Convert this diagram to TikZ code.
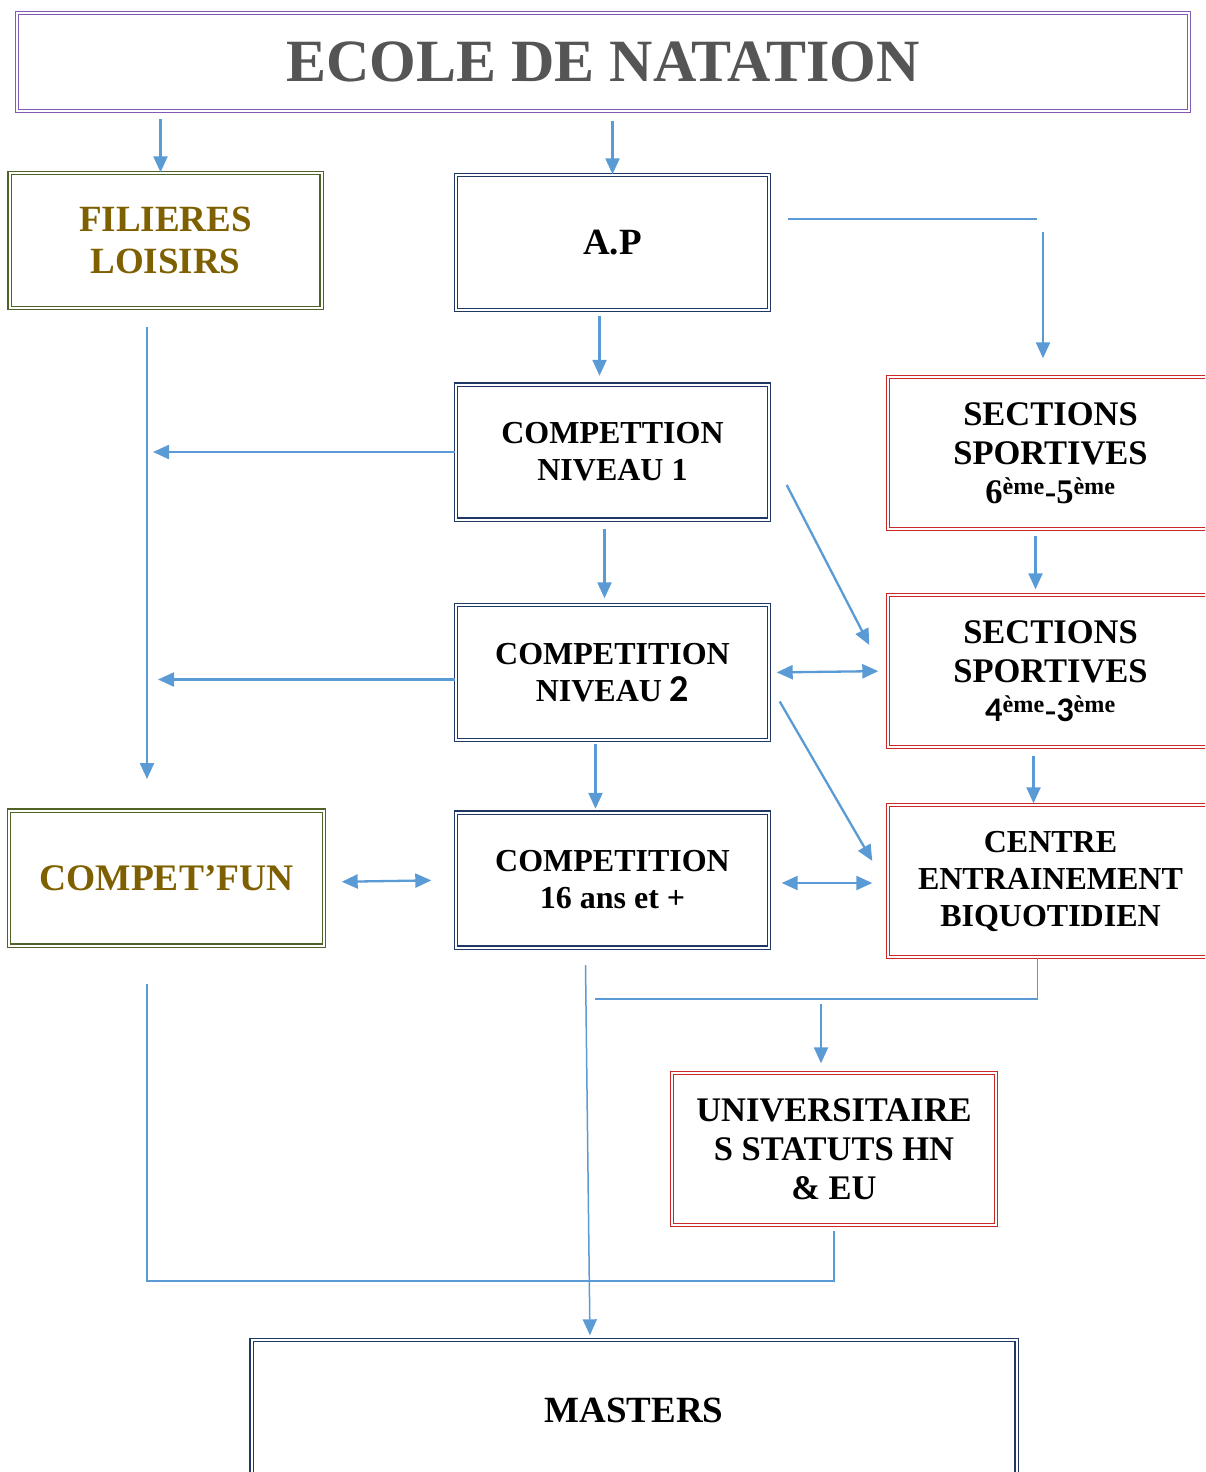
\documentclass[tikz,border=0pt]{standalone}
\usepackage{fontspec}
\setmainfont{Liberation Serif}
\newfontfamily\calibri{Carlito}
\usetikzlibrary{arrows.meta}

\definecolor{linkblue}{RGB}{91,155,213}
\definecolor{lilac}{RGB}{128,90,180}
\definecolor{leafgreen}{RGB}{79,98,40}
\definecolor{ochre}{RGB}{127,96,0}
\definecolor{navy}{RGB}{31,56,100}
\definecolor{redline}{RGB}{205,40,40}
\definecolor{slate}{RGB}{85,85,85}

\begin{document}
\begin{tikzpicture}[x=1pt, y=-1pt,
    box/.style={rectangle, double=white, double distance=2pt, line width=1.4pt, align=center, inner sep=0pt},
    titlebox/.style={box, draw=lilac, text=slate, minimum width=1172pt, minimum height=98pt, font=\fontsize{60}{63}\selectfont\bfseries},
    loisir/.style={box, draw=leafgreen, text=ochre, minimum width=312pt, minimum height=135pt, font=\fontsize{37}{42}\selectfont\bfseries},
    compbox/.style={box, draw=navy, minimum width=313pt, minimum height=135pt, font=\fontsize{32}{37}\selectfont\bfseries},
    sectbox/.style={box, draw=redline, minimum width=325pt, minimum height=152pt, font=\fontsize{34.5}{39}\selectfont\bfseries},
    link/.style={linkblue, line width=2.3pt},
    thinlink/.style={linkblue, line width=1.5pt},
    arr/.style={link, -{Triangle[length=16pt,width=14pt]}},
    both/.style={link, {Triangle[length=16pt,width=14pt]}-{Triangle[length=16pt,width=14pt]}},
]
\clip (0,0) rectangle (1205,1472);

% title
\node[titlebox] (title) at (603,62) {ECOLE DE NATATION};

% left column
\node[loisir] (loisir) at (165.5,240.5) {FILIERES\\LOISIRS};
\node[loisir, minimum width=315pt, font=\fontsize{37.5}{42}\selectfont\bfseries] (fun) at (166.5,878) {COMPET’FUN};

% middle column
\node[compbox, font=\fontsize{37}{42}\selectfont\bfseries] (ap) at (612.5,242.5) {A.P};
\node[compbox] (niv1) at (612.5,452) {COMPETTION\\NIVEAU 1};
\node[compbox] (niv2) at (612.5,672.5) {COMPETITION\\NIVEAU {\calibri\fontsize{38}{38}\selectfont 2}};
\node[compbox] (c16) at (612.5,880) {COMPETITION\\16 ans et +};

% right column
\node[sectbox] (sect65) at (1050.5,453) {SECTIONS\\SPORTIVES\\6\textsuperscript{ème}-5\textsuperscript{ème}};
\node[sectbox] (sect43) at (1050.5,671) {SECTIONS\\SPORTIVES\\{\calibri 4}\textsuperscript{ème}-{\calibri 3}\textsuperscript{ème}};
\node[sectbox, font=\fontsize{32}{37}\selectfont\bfseries] (centre) at (1050.5,881) {CENTRE\\ENTRAINEMENT\\BIQUOTIDIEN};
\node[sectbox, minimum width=324pt] (univ) at (834,1149) {UNIVERSITAIRE\\S STATUTS HN\\\& EU};

% bottom
\node[compbox, minimum width=765pt, minimum height=140pt, font=\fontsize{37}{42}\selectfont\bfseries] (masters) at (634,1410) {MASTERS};

% free ends
\coordinate (bend1) at (1043,219);
\coordinate (trunk) at (147,779);
\coordinate (bar1) at (595,999);
\coordinate (drop) at (821,999);
\coordinate (corner) at (147,1281);

% connectors
\draw[arr] ([xshift=-5pt]loisir.north) ++(0,-53) -- ([xshift=-5pt]loisir.north);
\draw[arr, shorten <=9pt] (title.south -| ap.north) -- (ap.north);
\draw[link, shorten <=18pt] (ap.east |- bend1) -- ([xshift=-6pt]bend1);
\draw[arr, shorten <=13pt, shorten >=18pt] (bend1) -- (bend1 |- sect65.north);
\draw[arr, shorten <=5pt, shorten >=8pt] ([xshift=-13pt]ap.south) -- ([xshift=-13pt]niv1.north);
\draw[arr, shorten <=18pt] (loisir.south -| trunk) -- (trunk);
\draw[arr, shorten >=6pt] (niv1.west) -- (niv1.west -| trunk);
\draw[arr, shorten <=9pt, shorten >=6pt] ([xshift=-8pt]niv1.south) -- ([xshift=-8pt]niv2.north);
\draw[arr] ([shift={(17pt,-33pt)}]niv1.east) -- ([shift={(-18pt,26pt)}]sect43.west);
\draw[arr, shorten <=6pt, shorten >=5pt] ([xshift=-15pt]sect65.south) -- ([xshift=-15pt]sect43.north);
\draw[arr, shorten >=11pt] ([yshift=-7pt]niv2.west) -- ([yshift=-7pt]niv2.west -| trunk);
\draw[both, shorten <=7pt, shorten >=9pt] (niv2.east) -- (sect43.west);
\draw[arr] ([shift={(10pt,-29pt)}]niv2.east) -- ([shift={(-15pt,20pt)}]centre.west);
\draw[arr, shorten <=3pt, shorten >=3pt] ([xshift=-17pt]niv2.south) -- ([xshift=-17pt]c16.north);
\draw[arr, shorten <=8pt, shorten >=1pt] ([xshift=-17pt]sect43.south) -- ([xshift=-17pt]centre.north);
\draw[both, shorten <=17pt, shorten >=24pt] ([yshift=-4pt]fun.east) -- (c16.west);
\draw[both, shorten <=12pt, shorten >=15pt] ([yshift=-3pt]c16.east) -- ([yshift=-2pt]centre.west);
\draw[thinlink] ([xshift=-13pt]centre.south) |- (bar1);
\draw[arr, shorten <=5pt, shorten >=9pt] (drop) -- (drop |- univ.north);
\draw[arr, thinlink, shorten >=4pt] ([shift={(-27pt,-17pt)}]c16.south) -- ([xshift=-44pt]masters.north);
\draw[thinlink, shorten <=38pt] (fun.south -| corner) -- (corner) -| ([yshift=-5pt]univ.south);

\end{tikzpicture}
\end{document}
